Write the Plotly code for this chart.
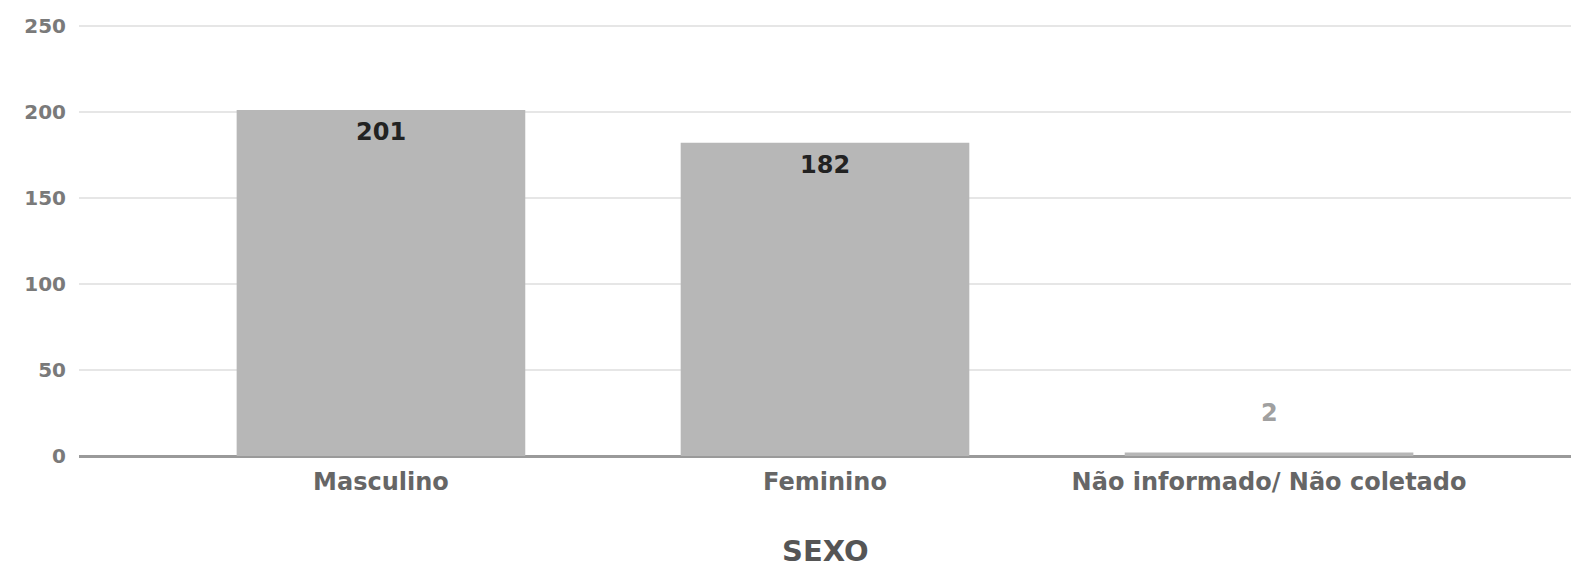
import plotly.graph_objects as go

# Contagem de registros por sexo
categorias = ["Masculino", "Feminino", "Não informado/ Não coletado"]
valores = [201, 182, 2]
y_ticks = [0, 50, 100, 150, 200, 250]

FONT = "DejaVu Sans"

fig = go.Figure(
    go.Bar(
        x=categorias,
        y=valores,
        width=0.65,
        marker=dict(color="#b7b7b7", line=dict(width=0)),
        hoverinfo="skip",
    )
)

# Rótulos de valor: dentro da barra no topo, ou acima quando a barra é muito baixa
for cat, v in zip(categorias, valores):
    inside = v > 20
    fig.add_annotation(
        x=cat,
        y=v,
        text=f"<b>{v}</b>",
        showarrow=False,
        yanchor="middle",
        yshift=-22 if inside else 40,
        font=dict(family=FONT, size=24, color="#222222" if inside else "#a0a0a0"),
    )

# Título do eixo X
fig.add_annotation(
    x=0.5,
    y=-0.22,
    xref="paper",
    yref="paper",
    text="<b>SEXO</b>",
    showarrow=False,
    yanchor="middle",
    borderpad=0,
    font=dict(family=FONT, size=29, color="#555555"),
)

fig.update_layout(
    width=1591,
    height=571,
    margin=dict(l=79, r=20, t=24, b=115, autoexpand=False),
    paper_bgcolor="white",
    plot_bgcolor="white",
    showlegend=False,
    xaxis=dict(
        range=[-0.68, 2.68],
        automargin=False,
        showgrid=False,
        showline=False,
        zeroline=False,
        ticks="",
        tickfont=dict(family=FONT, size=24, color="#666666", weight="bold"),
        ticklabelstandoff=9,
    ),
    yaxis=dict(
        range=[0, 251],
        automargin=False,
        tickvals=y_ticks,
        showgrid=True,
        gridcolor="#e6e6e6",
        gridwidth=1.5,
        zeroline=True,
        zerolinecolor="#9a9a9a",
        zerolinewidth=2.5,
        showline=False,
        ticks="",
        ticklabelstandoff=12,
        tickfont=dict(family=FONT, size=20, color="#7a7a7a", weight="bold"),
    ),
)

fig.write_html("out.html")
